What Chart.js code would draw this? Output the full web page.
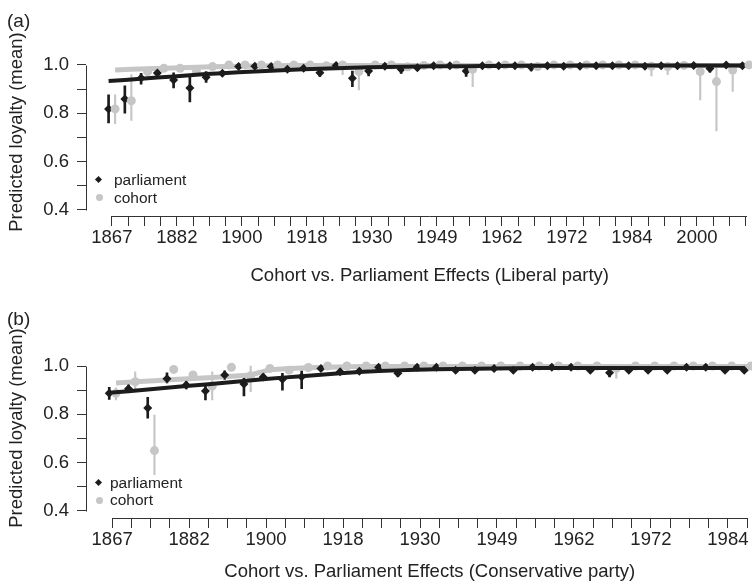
<!DOCTYPE html>
<html>
<head>
<meta charset="utf-8">
<script src="https://cdn.jsdelivr.net/npm/chart.js@4.4.0/dist/chart.umd.min.js"></script>
<style>
  body { margin: 0; background: #fff; width: 752px; height: 581px; overflow: hidden; position: relative;
         font-family: "Liberation Sans", Arial, Helvetica, sans-serif; color: #222; }
  .panel { position: absolute; left: 0; width: 752px; overflow: hidden; }
  .tag { position: absolute; left: 7px; font-size: 19px; line-height: 19px; }
  .leg { position: absolute; font-size: 15.5px; line-height: 16px; }
  .dia { position: absolute; width: 5px; height: 5px; background: #1c1c1c; transform: rotate(45deg); }
  .dot { position: absolute; width: 7px; height: 7px; border-radius: 50%; background: #c6c6c6; }
</style>
</head>
<body>
<div class="panel" style="top:0;height:290px">
  <canvas id="chartA" width="778" height="290"></canvas>
  <div class="tag" style="top:11px">(a)</div>
  <div class="dia" style="left:96px;top:177px"></div>
  <div class="leg" style="left:114px;top:172px">parliament</div>
  <div class="dot" style="left:96px;top:194px"></div>
  <div class="leg" style="left:114px;top:190px">cohort</div>
</div>
<div class="panel" style="top:290px;height:291px">
  <canvas id="chartB" width="778" height="291"></canvas>
  <div class="tag" style="top:19px">(b)</div>
  <div class="dia" style="left:96px;top:190px"></div>
  <div class="leg" style="left:110px;top:185px">parliament</div>
  <div class="dot" style="left:96px;top:207px"></div>
  <div class="leg" style="left:110px;top:202px">cohort</div>
</div>
<script>
// y axis ticks (both panels)
const yTickValues = [0.4, 0.5, 0.6, 0.7, 0.8, 0.9, 1.0];
const yTickLabels = ['0.4', '', '0.6', '', '0.8', '', '1.0'];

// (a) Liberal party - 40 parliaments, labelled every 4th
const libTicks = ['1867', '1882', '1900', '1918', '1930', '1949', '1962', '1972', '1984', '2000'];
const libParliament = [0.818, 0.859, 0.946, 0.967, 0.938, 0.905, 0.949, 0.966, 0.993, 0.995,
  0.993, 0.982, 0.986, 0.968, 0.998, 0.945, 0.975, 0.995, 0.982, 0.988,
  0.997, 0.997, 0.975, 0.997, 0.997, 0.997, 0.990, 0.997, 0.995, 0.995,
  0.997, 0.997, 0.997, 0.995, 0.997, 0.997, 0.998, 0.985, 1.0, 0.997];
const libParlLo = [0.760, 0.800, 0.920, 0.955, 0.905, 0.847, 0.928, 0.955, null, null,
  null, null, null, 0.952, null, 0.910, 0.955, null, 0.965, null,
  null, null, 0.952, null, null, null, 0.975, null, null, null,
  null, null, null, null, null, null, null, 0.970, null, null];
const libParlHi = [0.876, 0.913, 0.965, 0.975, 0.967, 0.950, 0.972, 0.978, null, null,
  null, null, null, 0.988, null, 0.975, 0.990, null, 0.995, null,
  null, null, 0.995, null, null, null, 1.0, null, null, null,
  null, null, null, null, null, null, null, 1.0, null, null];
const libCohort = [0.818, 0.852, 0.972, 0.986, 0.986, 0.975, 0.993, 1.0, 1.0, 1.0,
  1.0, 1.0, 1.0, 0.997, 1.0, 0.973, 1.0, 1.0, 0.992, 0.998,
  1.0, 1.0, 0.982, 1.0, 1.0, 1.0, 0.993, 1.0, 1.0, 1.0,
  1.0, 1.0, 1.0, 0.995, 0.993, 0.998, 0.972, 0.931, 0.979, 1.0];
const libCohortLo = [0.757, 0.770, null, null, null, null, null, null, null, null,
  null, null, null, null, 0.960, 0.897, null, null, null, null,
  null, null, 0.910, null, null, null, null, null, null, null,
  null, null, null, 0.955, 0.960, null, 0.855, 0.727, 0.890, null];
const libCohortHi = [0.876, 0.960, null, null, null, null, null, null, null, null,
  null, null, null, null, 1.0, 1.0, null, null, null, null,
  null, null, 1.0, null, null, null, null, null, null, null,
  null, null, null, 1.0, 1.0, null, 1.0, 1.0, 1.0, null];
const libParlFit = [0.933, 0.938, 0.943, 0.948, 0.952, 0.957, 0.962, 0.966, 0.970, 0.973,
  0.976, 0.979, 0.982, 0.984, 0.986, 0.988, 0.990, 0.991, 0.992, 0.993,
  0.994, 0.995, 0.995, 0.996, 0.996, 0.997, 0.997, 0.997, 0.997, 0.998,
  0.998, 0.998, 0.998, 0.998, 0.998, 0.998, 0.998, 0.998, 0.998, 0.998];
const libCohortFit = [0.979, 0.982, 0.984, 0.986, 0.988, 0.990, 0.992, 0.993, 0.995, 0.996,
  0.997, 0.998, 0.998, 0.998, 0.998, 0.998, 0.998, 0.998, 0.998, 0.998,
  0.998, 0.998, 0.998, 0.998, 0.998, 0.998, 0.998, 0.998, 0.998, 0.998,
  0.998, 0.998, 0.998, 0.998, 0.998, 0.998, 0.998, 0.998, 0.998, 0.998];

// (b) Conservative party - 34 parliaments visible
const conTicks = ['1867', '1882', '1900', '1918', '1930', '1949', '1962', '1972', '1984'];
const conParliament = [0.887, 0.906, 0.826, 0.947, 0.921, 0.897, 0.963, 0.926, 0.955, 0.945,
  0.956, 0.990, 0.976, 0.978, 0.995, 0.970, 0.995, 0.995, 0.983, 0.983,
  0.990, 0.983, 0.995, 0.995, 0.995, 0.983, 0.972, 0.983, 0.983, 0.983,
  0.995, 0.995, 0.983, 0.983];
const conParlLo = [0.862, 0.890, 0.784, 0.930, 0.905, 0.860, 0.945, 0.876, 0.940, 0.900,
  0.906, null, null, null, null, 0.957, null, null, null, null,
  null, null, null, null, null, null, 0.955, null, null, null,
  null, null, null, null];
const conParlHi = [0.912, 0.925, 0.870, 0.972, 0.940, 0.920, 0.980, 0.963, 0.970, 0.970,
  0.980, null, null, null, null, 0.985, null, null, null, null,
  null, null, null, null, null, null, 1.0, null, null, null,
  null, null, null, null];
const conCohort = [0.887, 0.935, 0.650, 0.986, 0.963, 0.917, 0.995, 0.960, 0.990, 0.983,
  0.994, 1.0, 1.0, 1.0, 1.0, 1.0, 1.0, 1.0, 1.0, 1.0,
  1.0, 1.0, 1.0, 1.0, 1.0, 1.0, 0.990, 1.0, 1.0, 1.0,
  1.0, 1.0, 1.0, 1.0];
const conCohortLo = [0.860, 0.900, 0.550, null, null, 0.860, null, 0.894, null, null,
  null, null, null, null, null, null, null, null, null, null,
  null, null, null, null, null, null, 0.950, null, null, null,
  null, null, null, null];
const conCohortHi = [0.910, 0.976, 0.797, null, null, 0.976, null, 1.0, null, null,
  null, null, null, null, null, null, null, null, null, null,
  null, null, null, null, null, null, 1.0, null, null, null,
  null, null, null, null];
const conParlFit = [0.889, 0.896, 0.903, 0.910, 0.917, 0.924, 0.931, 0.938, 0.945, 0.952,
  0.958, 0.964, 0.970, 0.975, 0.979, 0.982, 0.985, 0.987, 0.988, 0.989,
  0.990, 0.991, 0.992, 0.992, 0.992, 0.992, 0.992, 0.992, 0.992, 0.992,
  0.992, 0.992, 0.992, 0.992];
const conCohortFit = [0.930, 0.935, 0.939, 0.944, 0.948, 0.953, 0.958, 0.963, 0.985, 0.990,
  0.993, 0.995, 0.997, 0.998, 0.998, 0.998, 0.998, 0.998, 0.998, 0.998,
  0.998, 0.998, 0.998, 0.998, 0.998, 0.998, 0.998, 0.998, 0.998, 0.998,
  0.998, 0.998, 0.998, 0.998];

const FONT = '"Liberation Sans", Arial, Helvetica, sans-serif';
const INK = '#222';
const BLACK = '#1c1c1c';
const GREY = '#c6c6c6';

function pts(vals, shift) {
  return vals.map((v, i) => ({x: i + shift, y: v}));
}
function errs(lo, hi, shift) {
  const out = [];
  lo.forEach((l, i) => {
    if (l !== null) out.push({x: i + shift, y: [l, hi[i]]});
  });
  return out;
}

// draws the detached R-style axis lines between first and last tick
const axisLines = {
  id: 'axisLines',
  afterDraw(chart) {
    const {ctx, chartArea, scales} = chart;
    const x = scales.x, y = scales.y;
    ctx.save();
    ctx.strokeStyle = '#333';
    ctx.lineWidth = 1;
    ctx.beginPath();
    const lx = Math.round(chartArea.left) + 0.5;
    ctx.moveTo(lx, Math.round(y.getPixelForValue(yTickValues[0])) + 0.5);
    ctx.lineTo(lx, Math.round(y.getPixelForValue(yTickValues[yTickValues.length - 1])) + 0.5);
    const by = Math.round(chartArea.bottom) + 0.5;
    ctx.moveTo(Math.round(x.getPixelForValue(0)), by);
    ctx.lineTo(Math.round(x.getPixelForValue(x.ticks[x.ticks.length - 1].value)) + 1, by);
    ctx.stroke();
    ctx.restore();
  }
};

function makePanel(id, p) {
  const idx = p.parliament.map((_, i) => i);
  new Chart(document.getElementById(id), {
    type: 'scatter',
    data: {
      datasets: [
        { type: 'bar', data: errs(p.cohortLo, p.cohortHi, p.dodgeC), backgroundColor: GREY,
          barThickness: 1.5, grouped: false, borderWidth: 0, order: 7 },
        { type: 'bar', data: errs(p.parlLo, p.parlHi, p.dodgeP), backgroundColor: BLACK,
          barThickness: 2, grouped: false, borderWidth: 0, order: 6 },
        { type: 'line', data: pts(p.cohortFit, p.dodgeC), borderColor: GREY, borderWidth: 5,
          pointRadius: 0, showLine: true, tension: 0, order: 5 },
        { type: 'scatter', data: pts(p.parliament, p.dodgeP), pointStyle: 'rectRot', pointRadius: 4.5,
          backgroundColor: BLACK, borderWidth: 0, order: 4 },
        { type: 'scatter', data: pts(p.cohort, p.dodgeC), pointStyle: 'circle', pointRadius: 4.5,
          backgroundColor: GREY, borderWidth: 0, order: 3 },
        { type: 'line', data: pts(p.parlFit, p.dodgeP), borderColor: BLACK, borderWidth: 4,
          pointRadius: 0, showLine: true, tension: 0, order: 2 }
      ]
    },
    options: {
      responsive: false,
      animation: false,
      events: [],
      layout: { padding: { top: p.padTop, left: 0, right: 0, bottom: 0 } },
      plugins: { legend: { display: false }, tooltip: { enabled: false } },
      scales: {
        x: {
          type: 'linear', min: p.xMin, max: p.xMax, offset: false,
          afterBuildTicks: s => { s.ticks = idx.map(v => ({value: v})); },
          afterFit: s => { s.height = p.xHeight; },
          grid: { drawOnChartArea: false, tickLength: 10, color: '#333', offset: false },
          border: { display: false },
          ticks: { autoSkip: false, maxRotation: 0, padding: 1, color: INK,
                   font: { family: FONT, size: 18.5 },
                   callback: (v, i) => (i % 4 === 0 ? p.ticks[i / 4] : '') },
          title: { display: true, text: p.xTitle, color: INK,
                   font: { family: FONT, size: 18.5, lineHeight: p.titleLH },
                   padding: { top: 0, bottom: p.titlePad } }
        },
        y: {
          type: 'linear', min: p.yMin, max: p.yMax,
          afterBuildTicks: s => { s.ticks = yTickValues.map(v => ({value: v})); },
          afterFit: s => { s.width = 86; },
          grid: { drawOnChartArea: false, tickLength: 9, color: '#333' },
          border: { display: false },
          ticks: { padding: 8, color: INK, font: { family: FONT, size: 18.5 },
                   callback: (v, i) => yTickLabels[i] },
          title: { display: true, text: 'Predicted loyalty (mean)', color: INK,
                   font: { family: FONT, size: 18.5, lineHeight: 1.2 },
                   padding: { top: 6, bottom: 0 } }
        }
      }
    },
    plugins: [axisLines]
  });
}

makePanel('chartA', {
  parliament: libParliament, parlLo: libParlLo, parlHi: libParlHi, parlFit: libParlFit,
  cohort: libCohort, cohortLo: libCohortLo, cohortHi: libCohortHi, cohortFit: libCohortFit,
  ticks: libTicks, xTitle: 'Cohort vs. Parliament Effects (Liberal party)',
  dodgeP: -0.2, dodgeC: 0.2, xMin: -1.59, xMax: 40.71, yMin: 0.375, yMax: 1.07,
  padTop: 48, xHeight: 74, titlePad: 3.8, titleLH: 1.1
});

makePanel('chartB', {
  parliament: conParliament, parlLo: conParlLo, parlHi: conParlHi, parlFit: conParlFit,
  cohort: conCohort, cohortLo: conCohortLo, cohortHi: conCohortHi, cohortFit: conCohortFit,
  ticks: conTicks, xTitle: 'Cohort vs. Parliament Effects (Conservative party)',
  dodgeP: -0.15, dodgeC: 0.2, xMin: -1.358, xMax: 34.37, yMin: 0.371, yMax: 1.116,
  padTop: 48, xHeight: 63, titlePad: 0, titleLH: 1.0
});
</script>
</body>
</html>
